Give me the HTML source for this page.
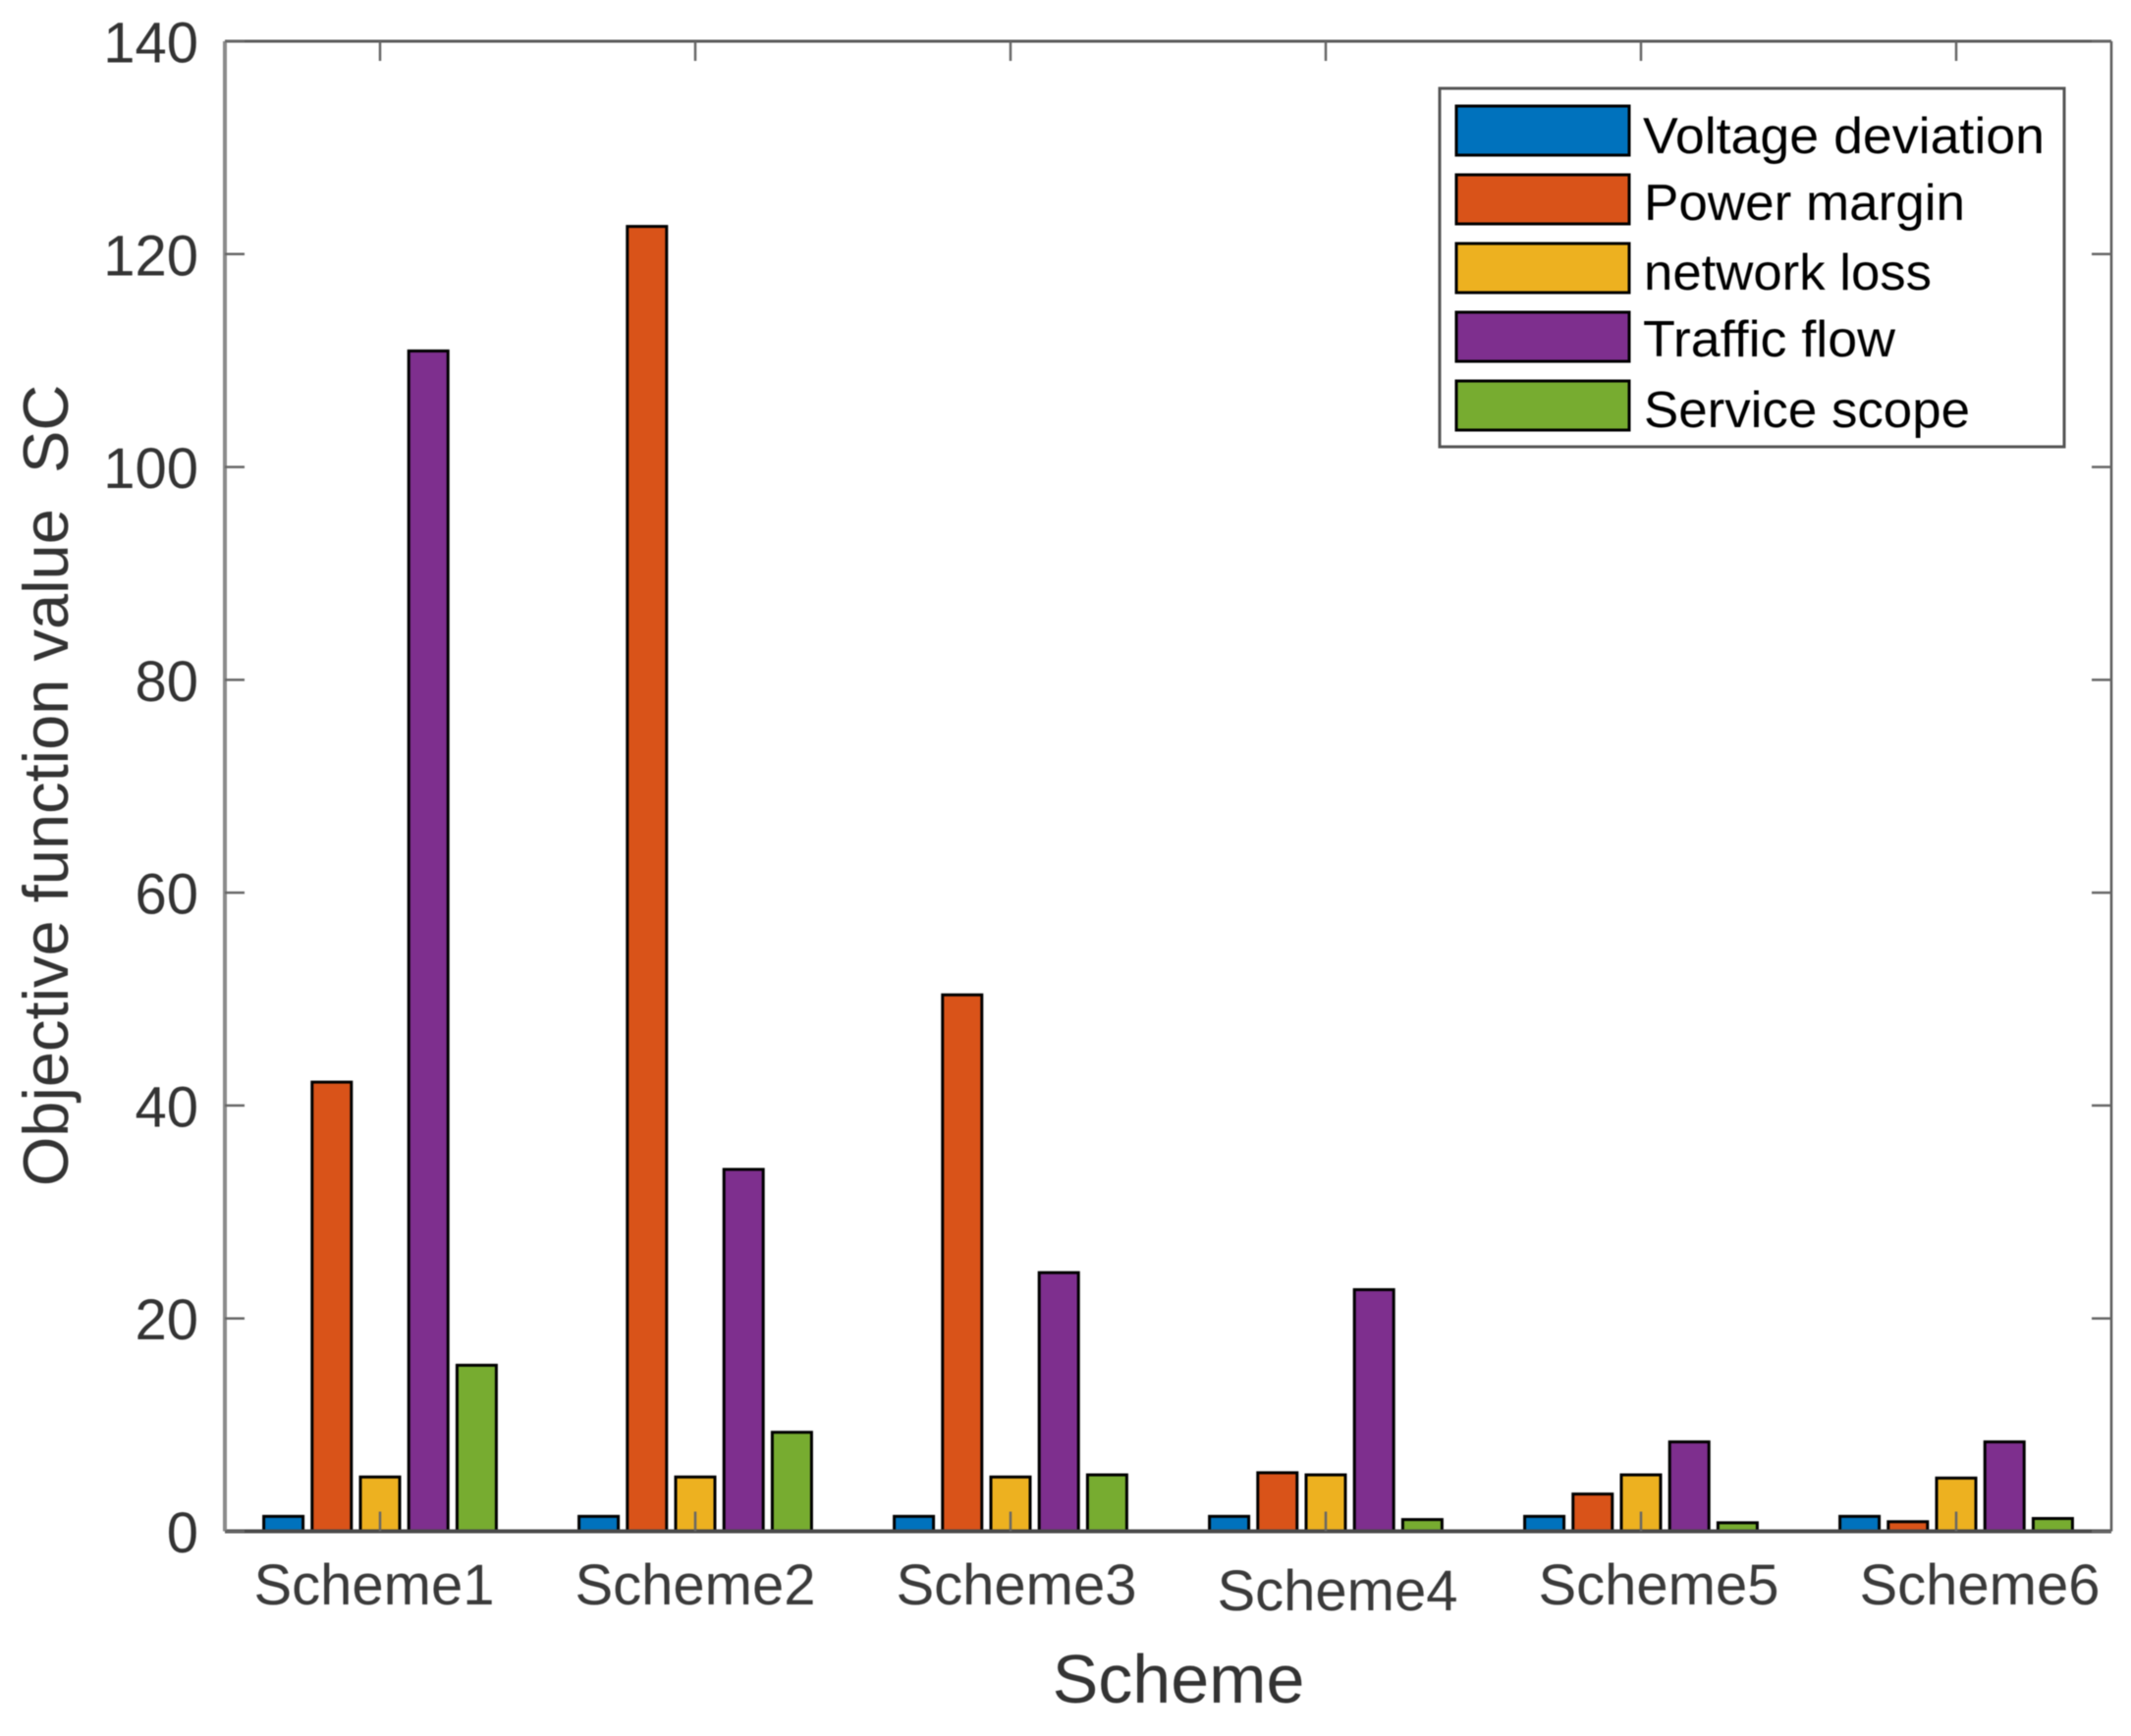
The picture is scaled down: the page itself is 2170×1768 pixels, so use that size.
<!DOCTYPE html>
<html lang="en">
<head>
<meta charset="utf-8">
<title>Objective function value by scheme</title>
<style>
html,body{margin:0;padding:0;background:#fff;}
svg{display:block;font-family:"Liberation Sans",Arial,sans-serif;filter:blur(0.5px);}
</style>
</head>
<body>
<svg id="chart" xmlns="http://www.w3.org/2000/svg" width="2170" height="1768" viewBox="0 0 2170 1768">
  <rect x="0" y="0" width="2170" height="1768" fill="#ffffff"/>
  <g id="bars"></g>
  <g id="axes"></g>
  <text x="1200" y="1734" font-size="70" fill="#333" text-anchor="middle">Scheme</text>
  <text transform="translate(69,800) rotate(-90)" font-size="65" fill="#333" text-anchor="middle">Objective function value&#160;&#160;SC</text>
  <g>
    <rect x="1466" y="90" width="636" height="365" fill="#fff" stroke="#555" stroke-width="3"/>
    <g>
      <rect x="1483" y="108" width="176" height="50" fill="#0072BD" stroke="#000" stroke-width="3"/>
      <text x="1673" y="156" font-size="52" fill="#000" textLength="409" lengthAdjust="spacingAndGlyphs">Voltage deviation</text>
    </g>
    <g>
      <rect x="1483" y="178" width="176" height="50" fill="#D95319" stroke="#000" stroke-width="3"/>
      <text x="1674" y="224" font-size="52" fill="#000" textLength="327" lengthAdjust="spacingAndGlyphs">Power margin</text>
    </g>
    <g>
      <rect x="1483" y="248" width="176" height="50" fill="#EDB120" stroke="#000" stroke-width="3"/>
      <text x="1674" y="295" font-size="52" fill="#000" textLength="293" lengthAdjust="spacingAndGlyphs">network loss</text>
    </g>
    <g>
      <rect x="1483" y="318" width="176" height="50" fill="#7E2F8E" stroke="#000" stroke-width="3"/>
      <text x="1673" y="363" font-size="52" fill="#000" textLength="257" lengthAdjust="spacingAndGlyphs">Traffic flow</text>
    </g>
    <g>
      <rect x="1483" y="388" width="176" height="50" fill="#77AC30" stroke="#000" stroke-width="3"/>
      <text x="1674" y="435" font-size="52" fill="#000" textLength="332" lengthAdjust="spacingAndGlyphs">Service scope</text>
    </g>
  </g>
</svg>
<script>
const categories = ["Scheme1", "Scheme2", "Scheme3", "Scheme4", "Scheme5", "Scheme6"];
const voltageDeviation = [1.4, 1.4, 1.4, 1.4, 1.4, 1.4];
const powerMargin = [42.2, 122.6, 50.4, 5.5, 3.5, 0.9];
const networkLoss = [5.1, 5.1, 5.1, 5.3, 5.3, 5.0];
const trafficFlow = [110.9, 34.0, 24.3, 22.7, 8.4, 8.4];
const serviceScope = [15.6, 9.3, 5.3, 1.1, 0.8, 1.2];
const yTicks = [0, 20, 40, 60, 80, 100, 120, 140];

const seriesValues = [voltageDeviation, powerMargin, networkLoss, trafficFlow, serviceScope];
const seriesKeys = ["voltage-deviation", "power-margin", "network-loss", "traffic-flow", "service-scope"];
const seriesColors = ["#0072BD", "#D95319", "#EDB120", "#7E2F8E", "#77AC30"];

const NS = "http://www.w3.org/2000/svg";
const plotLeft = 229, plotRight = 2150, plotTop = 42, plotBottom = 1559.5;
const yMax = 140;
const barPitch = 49.2, barWidth = 40, tickLen = 20;

function yScale(v) { return plotBottom - (v / yMax) * (plotBottom - plotTop); }
function xCenter(i) { return 387 + 321 * i; }
function xLabel(i) { return 381 + 327 * i; }
function xBar(i, s) { return xCenter(i) + (s - 2) * barPitch - barWidth / 2; }

function make(tag, attrs) {
  const el = document.createElementNS(NS, tag);
  for (const k in attrs) el.setAttribute(k, attrs[k]);
  return el;
}

const barsLayer = document.getElementById("bars");
const axesLayer = document.getElementById("axes");

seriesValues.forEach(function (values, s) {
  values.forEach(function (v, i) {
    const top = yScale(v);
    const bar = make("rect", {
      x: xBar(i, s), y: top, width: barWidth, height: plotBottom - top,
      fill: seriesColors[s], stroke: "#000", "stroke-width": 3
    });
    
    
    barsLayer.appendChild(bar);
  });
});

const frame = [
  [plotLeft, plotTop, plotRight, plotTop, "#5a5a5a", 3],
  [plotLeft, plotBottom, plotRight, plotBottom, "#4a4a4a", 4],
  [plotLeft, plotTop, plotLeft, plotBottom, "#8a8a8a", 4],
  [plotRight, plotTop, plotRight, plotBottom, "#5a5a5a", 2.5]
];
frame.forEach(function (f) {
  const line = make("line", { x1: f[0], y1: f[1], x2: f[2], y2: f[3], stroke: f[4], "stroke-width": f[5] });
  
  
  axesLayer.appendChild(line);
});

yTicks.forEach(function (t) {
  const y = yScale(t);
  [[plotLeft, plotLeft + tickLen], [plotRight, plotRight - tickLen]].forEach(function (p) {
    const tick = make("line", { x1: p[0], y1: y, x2: p[1], y2: y, stroke: "#666", "stroke-width": 2.5 });
    
    
    axesLayer.appendChild(tick);
  });
  const label = make("text", { x: 202, y: y + 21.5, "font-size": 58, fill: "#333", "text-anchor": "end" });
  label.textContent = String(t);
  
  
  axesLayer.appendChild(label);
});

categories.forEach(function (c, i) {
  const x = xCenter(i);
  [[plotBottom, plotBottom - tickLen], [plotTop, plotTop + tickLen]].forEach(function (p) {
    const tick = make("line", { x1: x, y1: p[0], x2: x, y2: p[1], stroke: "#666", "stroke-width": 2.5 });
    
    
    axesLayer.appendChild(tick);
  });
  const label = make("text", {
    x: xLabel(i), y: 1634 + (i === 3 ? 6 : 0),
    "font-size": 58, fill: "#3a3a3a", "text-anchor": "middle"
  });
  label.textContent = c;
  
  
  axesLayer.appendChild(label);
});
</script>
</body>
</html>
